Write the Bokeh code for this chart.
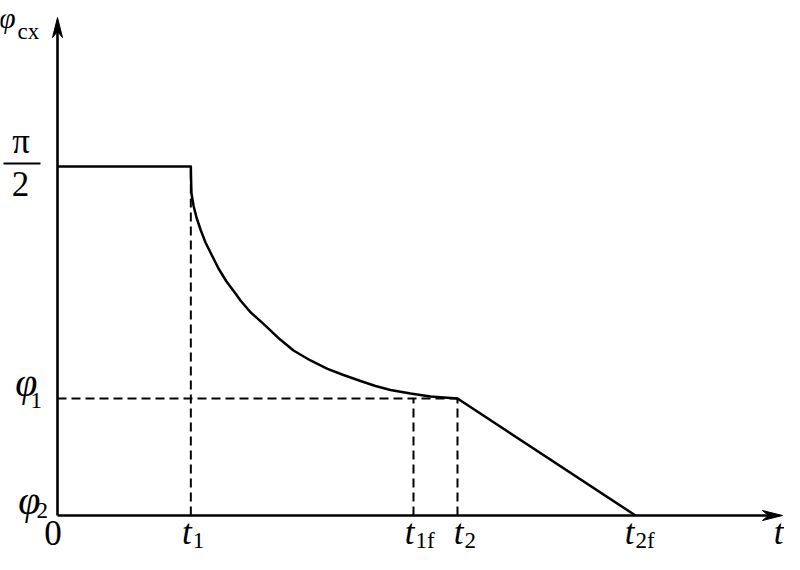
import numpy as np
from bokeh.plotting import figure
from bokeh.models import Range1d
from bokeh.core.properties import value
from bokeh.embed import file_html
from bokeh.resources import INLINE

# ---- data ----
t1, t1f, t2, t2f = 1.0, 2.67, 3.0, 4.335
phi_top = np.pi / 2
phi1 = 0.527
phi2 = 0.0
t_axis_end = 5.4375
phi_axis_end = 2.241

curve_t = [1.0, 1.002, 1.005, 1.020, 1.0425, 1.0725, 1.110, 1.155, 1.2075,
           1.2675, 1.335, 1.3725, 1.4475, 1.545, 1.650, 1.770, 1.8975, 2.025,
           2.145, 2.2725, 2.385, 2.4975, 2.6475, 2.7975, 3.0]
curve_phi = [1.5708, 1.5077, 1.4491, 1.3951, 1.3411, 1.2871, 1.2286, 1.1746,
             1.1116, 1.0531, 0.9991, 0.9676, 0.9149, 0.8627, 0.8024, 0.7426,
             0.6976, 0.6602, 0.6323, 0.6053, 0.5828, 0.5648, 0.5491, 0.5356,
             0.5266]

t_labels = ["1", "1f", "2", "2f"]
t_ticks = [t1, t1f, t2, t2f]
t_label_shift = [0, 0, 5, -2]   # px

# ---- figure ----
W, H = 784, 554
PX, PY = 133.33, 222.2          # pixels per data unit
x0 = -57 / PX
x1 = x0 + W / PX
y1 = 515 / PY
y0 = y1 - H / PY
def dx(px): return px / PX
def dy(px): return px / PY

p = figure(width=W, height=H, x_range=Range1d(x0, x1), y_range=Range1d(y0, y1),
           output_backend="svg", toolbar_location=None, min_border=0)
p.axis.visible = False
p.grid.visible = False
p.outline_line_color = None
p.background_fill_color = "white"
p.border_fill_color = "white"

FONT = value("Liberation Serif")

# axes
p.line([0, t_axis_end - dx(10)], [phi2, phi2], line_color="black", line_width=2.6)
p.line([0, 0], [phi2, phi_axis_end - dy(10)], line_color="black", line_width=2.6)
# arrow heads (notched)
L, Wd, N = 20, 5, 14
p.patch([t_axis_end, t_axis_end - dx(L), t_axis_end - dx(N), t_axis_end - dx(L)],
        [phi2, phi2 + dy(Wd), phi2, phi2 - dy(Wd)],
        fill_color="black", line_color="black", line_width=1)
p.patch([0, 0 - dx(Wd), 0, 0 + dx(Wd)],
        [phi_axis_end, phi_axis_end - dy(L), phi_axis_end - dy(N), phi_axis_end - dy(L)],
        fill_color="black", line_color="black", line_width=1)

# main profile
prof_t = [0, t1] + curve_t[1:] + [t2f]
prof_phi = [phi_top, phi_top] + curve_phi[1:] + [phi2]
p.line(prof_t, prof_phi, line_color="black", line_width=2.5, line_join="round")

# dashed guides
dash = "9 5"
p.line([t1, t1], [phi2, phi_top], line_color="black", line_width=2, line_dash=dash)
p.line([0, t2], [phi1, phi1], line_color="black", line_width=2, line_dash=dash)
p.line([t1f, t1f], [phi2, phi1], line_color="black", line_width=2, line_dash=dash)
p.line([t2, t2], [phi2, phi1], line_color="black", line_width=2, line_dash=dash)

def lab(x, y, s, size, style="normal", align="left"):
    # baseline correction for the renderer's alphabetic baseline
    y = y + dy(0.34 * size)
    p.text(x=[x], y=[y], text=[s], text_font=FONT, text_font_size=f"{size}px",
           text_font_style=style, text_align=align, text_baseline="alphabetic",
           text_color="black")

MAIN, SUB, PHI = 35, 23, 40

# t labels
for tv, sub, sh in zip(t_ticks, t_labels, t_label_shift):
    lab(tv + dx(sh + 1), phi2 - dy(29), "t", MAIN, "italic", "right")
    lab(tv + dx(sh + 2), phi2 - dy(33), sub, SUB, "normal", "left")

lab(t_axis_end + dx(1), phi2 - dy(29), "t", MAIN, "italic", "right")
lab(0 - dx(4.5), phi2 - dy(29), "0", MAIN, "normal", "center")

# phi labels
lab(0 - dx(20), phi1 + dy(2), "φ", PHI, "italic", "right")
lab(0 - dx(27), phi1 - dy(10), "1", SUB, "normal", "left")
lab(0 - dx(17), phi2 + dy(1), "φ", PHI, "italic", "right")
lab(0 - dx(21), phi2 - dy(3), "2", SUB, "normal", "left")

# phi_cx
lab(0 - dx(42), phi_axis_end - dy(10), "φ", 30, "italic", "right")
lab(0 - dx(40), phi_axis_end - dy(22), "cx", SUB, "normal", "left")

# pi/2
lab(0 - dx(36.5), phi_top + dy(13), "π", MAIN, "normal", "center")
p.line([0 - dx(54), 0 - dx(17)], [phi_top + dy(3), phi_top + dy(3)],
       line_color="black", line_width=2)
lab(0 - dx(37), phi_top - dy(29), "2", MAIN, "normal", "center")

open("out.html", "w").write(file_html(p, INLINE))
